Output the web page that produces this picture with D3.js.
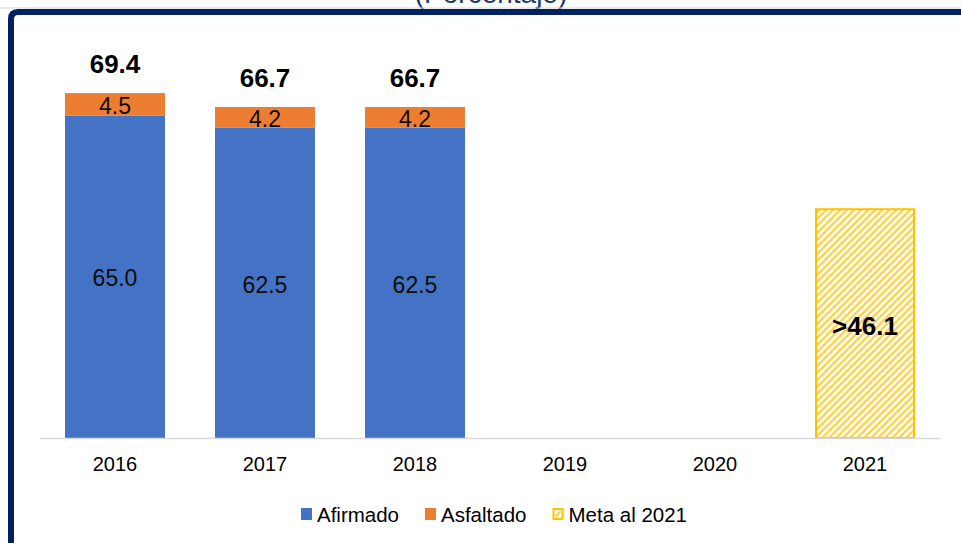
<!DOCTYPE html>
<html>
<head>
<meta charset="utf-8">
<script src="https://cdn.jsdelivr.net/npm/d3@7"></script>
<style>
  html, body { margin: 0; padding: 0; background: #ffffff; overflow: hidden; }
  svg { display: block; }
  text { font-family: "Liberation Sans", Arial, sans-serif; }
</style>
</head>
<body>
<svg id="chart" width="961" height="543"></svg>
<script>
// Years on the category axis
const years = ["2016", "2017", "2018", "2019", "2020", "2021"];
// Stacked series (percent)
const afirmado  = [65.0, 62.5, 62.5, null, null, null];
const asfaltado = [4.5, 4.2, 4.2, null, null, null];
// Totals shown above the stacks
const totales   = [69.4, 66.7, 66.7, null, null, null];
// Target for 2021
const meta      = [null, null, null, null, null, 46.1];
const metaLabel = ">46.1";
// Legend entries
const seriesNames = ["Afirmado", "Asfaltado", "Meta al 2021"];
const titleText = "(Porcentaje)";

const colors = { afirmado: "#4472C4", asfaltado: "#ED7D31", meta: "#FFC000", frame: "#022060", title: "#203864" };

const svg = d3.select("#chart");

// Pattern for the target bar: fine upward diagonal hatch
const defs = svg.append("defs");
const T = 7;
const pat = defs.append("pattern")
  .attr("id", "hatch")
  .attr("patternUnits", "userSpaceOnUse")
  .attr("width", T).attr("height", T);
pat.append("rect").attr("width", T).attr("height", T).attr("fill", "#FFFBEC");
pat.append("path")
  .attr("d", `M${-T/4},${T/4} L${T/4},${-T/4} M0,${T} L${T},0 M${T*3/4},${T*5/4} L${T*5/4},${T*3/4}`)
  .attr("stroke", "#FFD146").attr("stroke-width", 2.1);

// Title (partly above the frame)
svg.append("text")
  .attr("x", 491).attr("y", 3)
  .attr("text-anchor", "middle")
  .attr("font-size", 28)
  .attr("fill", colors.title)
  .text(titleText);

// Frame: top and left edges with a rounded corner
svg.append("line").attr("x1", 0).attr("x2", 961).attr("y1", 8).attr("y2", 8)
  .attr("stroke", "#d8d8d8").attr("stroke-width", 1);
svg.append("path")
  .attr("d", "M11,560 L11,19 Q11,12 18,12 L970,12")
  .attr("fill", "none")
  .attr("stroke", colors.frame)
  .attr("stroke-width", 6);

// Scales
const x = d3.scaleBand().domain(years).range([40, 940]).paddingInner(1/3).paddingOuter(1/6);
const y = d3.scaleLinear().domain([0, 80]).range([438, 41]);

// Stacks
const rows = years.map((yr, i) => ({ year: yr, afirmado: afirmado[i] || 0, asfaltado: asfaltado[i] || 0 }));
const stack = d3.stack().keys(["afirmado", "asfaltado"])(rows);

const g = svg.append("g");
stack.forEach(layer => {
  g.append("g").selectAll("rect")
    .data(layer.filter(d => d[1] > d[0]))
    .join("rect")
    .attr("x", d => x(d.data.year))
    .attr("width", x.bandwidth())
    .attr("y", d => y(d[1]))
    .attr("height", d => y(d[0]) - y(d[1]))
    .attr("fill", colors[layer.key]);
});

// Segment labels
stack.forEach(layer => {
  g.append("g").selectAll("text")
    .data(layer.filter(d => d[1] > d[0]))
    .join("text")
    .attr("x", d => x(d.data.year) + x.bandwidth() / 2)
    .attr("y", d => (y(d[0]) + y(d[1])) / 2 + 0.36 * 23 + 1.5)
    .attr("text-anchor", "middle")
    .attr("font-size", 23)
    .attr("fill", "#0d0d0d")
    .text(d => d.data[layer.key].toFixed(1));
});

// Totals above stacks
g.append("g").selectAll("text")
  .data(years.map((yr, i) => ({ year: yr, total: totales[i], top: (afirmado[i] || 0) + (asfaltado[i] || 0) })).filter(d => d.total != null))
  .join("text")
  .attr("x", d => x(d.year) + x.bandwidth() / 2)
  .attr("y", d => y(d.top) - 20)
  .attr("text-anchor", "middle")
  .attr("font-size", 26)
  .attr("font-weight", "bold")
  .attr("fill", "#000")
  .text(d => d.total.toFixed(1));

// Target bar
const metaData = years.map((yr, i) => ({ year: yr, v: meta[i] })).filter(d => d.v != null);
g.append("g").selectAll("rect")
  .data(metaData)
  .join("rect")
  .attr("x", d => x(d.year) + 1)
  .attr("width", x.bandwidth() - 2)
  .attr("y", d => y(d.v))
  .attr("height", d => y(0) - y(d.v))
  .attr("fill", "url(#hatch)")
  .attr("stroke", colors.meta)
  .attr("stroke-width", 2);
g.append("g").selectAll("text")
  .data(metaData)
  .join("text")
  .attr("x", d => x(d.year) + x.bandwidth() / 2)
  .attr("y", d => (y(0) + y(d.v)) / 2 + 11)
  .attr("text-anchor", "middle")
  .attr("font-size", 26)
  .attr("font-weight", "bold")
  .attr("fill", "#000")
  .text(metaLabel);

// Category axis
const axis = svg.append("g")
  .attr("transform", `translate(0,${y(0)})`)
  .call(d3.axisBottom(x).tickSize(0).tickSizeOuter(0).tickPadding(18.5));
axis.select(".domain").attr("stroke", "#d9d9d9").attr("stroke-width", 1.5);
axis.selectAll("text")
  .attr("font-family", "'Liberation Sans', Arial, sans-serif")
  .attr("font-size", 20)
  .attr("fill", "#000");

// Legend
const legend = svg.append("g");
const swatch = [colors.afirmado, colors.asfaltado, "meta"];
const items = legend.selectAll("g").data(seriesNames).join("g");
items.append("text")
  .attr("font-size", 20.5)
  .attr("fill", "#000")
  .attr("y", 522)
  .text(d => d);
const widths = [];
items.select("text").each(function() { widths.push(this.getComputedTextLength()); });
const sq = 11, gapText = 5, gapItem = 26;
const total = widths.reduce((a, w) => a + sq + gapText + w, 0) + gapItem * (widths.length - 1);
let cx = 494 - total / 2;
items.each(function(d, i) {
  const it = d3.select(this);
  if (swatch[i] === "meta") {
    it.append("rect").attr("x", cx + 1).attr("y", 509).attr("width", sq - 2).attr("height", sq - 1)
      .attr("fill", "#FFFBEC").attr("stroke", colors.meta).attr("stroke-width", 2);
    it.append("path").attr("d", `M${cx + 3},${517} L${cx + 8},${511}`)
      .attr("stroke", "#FFD146").attr("stroke-width", 2);
  } else {
    it.append("rect").attr("x", cx).attr("y", 508).attr("width", sq).attr("height", sq + 1)
      .attr("fill", swatch[i]);
  }
  it.select("text").attr("x", cx + sq + gapText);
  cx += sq + gapText + widths[i] + gapItem;
});
</script>
</body>
</html>
